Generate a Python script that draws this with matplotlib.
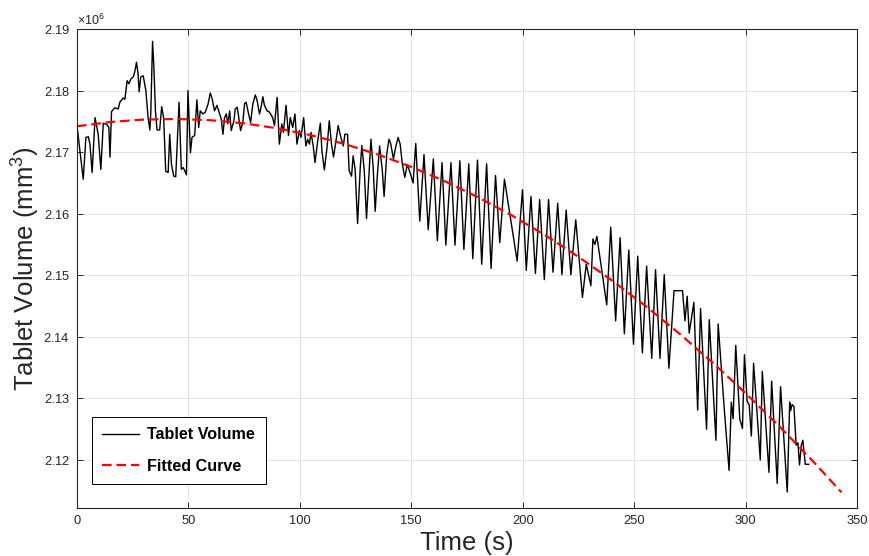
import numpy as np
import matplotlib.pyplot as plt

plt.rcParams['font.family'] = ['Liberation Sans', 'DejaVu Sans']
plt.rcParams['mathtext.fontset'] = 'custom'
plt.rcParams['mathtext.rm'] = 'Liberation Sans'
plt.rcParams['mathtext.it'] = 'Liberation Sans:italic'

# measured tablet volume (time in s, volume in 10^3 mm^3)
time_s = [
    0.1, 2.8, 4.0, 5.1, 5.8, 6.8, 8.1, 9.5, 10.7, 11.8,
    13.3, 14.3, 14.8, 15.5, 17.0, 18.5, 19.2, 20.7, 21.5, 22.5,
    23.3, 24.2, 25.2, 25.9, 26.7, 27.4, 27.9, 28.6, 29.7, 30.9,
    31.9, 32.7, 33.1, 33.9, 34.5, 35.2, 35.9, 37.1, 38.0, 38.9,
    39.8, 40.9, 41.6, 42.4, 43.4, 44.3,
    45.8, 46.8, 47.6, 48.3, 49.1, 49.8, 50.9, 51.6, 52.8, 53.8,
    54.6, 55.3, 56.5, 57.6, 58.8, 59.8, 60.7, 61.7, 62.8, 64.0,
    64.7, 65.5, 66.2, 67.0, 67.7, 68.5, 69.2, 70.4, 71.0, 71.9,
    72.6, 73.4, 74.4, 75.2, 75.9, 77.0, 77.9, 78.9, 80.0, 80.8,
    81.9, 82.6, 83.4, 84.1, 85.3, 86.4, 87.8,
    88.6, 89.8, 90.8, 91.9, 92.6, 93.8, 94.9, 95.7, 96.8, 97.8,
    98.7, 99.8, 100.5, 101.7, 102.7, 103.5, 104.3, 105.0, 106.0, 106.8,
    108.0, 109.2, 109.9, 111.0, 112.2, 113.2, 114.2, 115.1, 116.2, 117.2,
    118.4, 119.5, 120.2, 121.4, 122.1, 123.2, 123.9, 124.8, 125.9, 127.1,
    127.8, 128.9, 129.9, 131.1, 131.9, 132.9, 133.8, 134.8, 135.8, 137.0,
    137.8,
    139.0, 140.0, 140.8, 142.0, 143.0, 144.1, 145.0, 146.0, 147.1, 148.2,
    149.7, 150.8, 152.0, 153.8, 155.7, 157.6, 159.9, 161.7, 163.8, 165.5,
    167.8, 169.6, 171.8, 173.6, 175.8, 177.6, 179.7, 181.6, 183.8, 185.8,
    187.8, 189.7, 191.8, 197.5, 199.9, 201.6, 203.7, 205.7, 207.6, 209.7,
    211.6, 213.6, 215.7, 217.6, 219.5, 221.6, 223.8, 226.8, 228.5, 230.6,
    231.5, 232.4, 233.3, 237.7, 239.5, 241.7, 243.7, 245.6, 247.6, 249.7,
    251.6, 253.7, 255.6, 257.9, 259.6, 261.6, 263.5, 265.6, 267.9, 271.7,
    272.8, 273.8, 274.7, 276.8, 278.5, 279.8, 282.5, 283.7, 286.7, 287.7,
    290.5, 292.6, 293.6, 294.4, 295.6, 297.4, 298.6, 299.5, 300.7, 301.6,
    302.6, 303.6, 306.6, 307.5, 310.5, 311.7, 314.2, 315.7, 318.7, 319.8,
    320.2, 320.9, 321.7, 322.7, 323.5, 324.2, 325.0, 325.7, 326.8, 328.3,
]
volume_k = [
    2174.0, 2165.6, 2172.4, 2172.5, 2171.3, 2166.7, 2175.6, 2172.9, 2167.2, 2174.7,
    2174.5, 2174.0, 2169.2, 2176.6, 2177.2, 2177.0, 2178.1, 2178.8, 2178.6, 2181.6,
    2181.1, 2181.9, 2182.2, 2183.0, 2184.6, 2182.7, 2179.8, 2182.2, 2182.4, 2180.0,
    2175.6, 2173.6, 2176.2, 2188.0, 2183.8, 2176.7, 2173.6, 2173.6, 2177.4, 2175.5,
    2166.9, 2166.7, 2172.9, 2168.0, 2166.1, 2166.0,
    2178.1, 2167.2, 2167.5, 2167.0, 2166.3, 2180.0, 2169.9, 2172.4, 2172.7, 2178.5,
    2174.0, 2176.7, 2176.2, 2176.5, 2177.8, 2179.6, 2178.6, 2176.7, 2177.6, 2176.2,
    2175.4, 2172.9, 2175.6, 2176.2, 2174.6, 2176.7, 2173.5, 2175.1, 2177.0, 2177.3,
    2175.6, 2173.5, 2174.8, 2177.9, 2178.1, 2176.2, 2174.8, 2177.8, 2179.3, 2178.4,
    2176.2, 2177.3, 2179.0, 2177.6, 2176.7, 2176.5, 2175.6,
    2174.3, 2178.9, 2171.3, 2174.6, 2173.2, 2177.6, 2172.7, 2175.6, 2174.0, 2176.2,
    2171.3, 2173.5, 2172.4, 2175.6, 2171.0, 2172.1, 2171.3, 2173.2, 2171.0, 2168.3,
    2171.8, 2174.7, 2170.2, 2167.1, 2170.8, 2175.1, 2171.3, 2169.2, 2171.8, 2174.3,
    2172.4, 2171.0, 2172.9, 2172.9, 2167.0, 2166.1, 2169.4, 2167.2, 2158.4, 2167.5,
    2171.1, 2167.0, 2159.2, 2167.0, 2172.1, 2167.5, 2160.4, 2166.4, 2171.0, 2167.0,
    2162.8,
    2169.7, 2172.1, 2171.3, 2168.9, 2170.8, 2172.4, 2171.3, 2168.0, 2165.9, 2168.0,
    2166.4, 2165.0, 2171.4, 2158.8, 2169.6, 2157.4, 2168.9, 2155.6, 2168.3, 2154.9,
    2168.3, 2154.9, 2168.6, 2154.2, 2168.1, 2152.7, 2168.7, 2151.8, 2168.1, 2151.1,
    2166.2, 2155.3, 2165.6, 2152.3, 2163.9, 2150.8, 2162.8, 2150.3, 2162.3, 2149.3,
    2162.3, 2150.5, 2161.7, 2150.1, 2160.6, 2150.1, 2159.0, 2146.4, 2151.8, 2148.3,
    2155.9, 2155.0, 2156.3, 2145.2, 2157.8, 2142.6, 2156.1, 2140.5, 2154.1, 2138.8,
    2153.1, 2137.4, 2151.5, 2136.5, 2150.9, 2136.5, 2150.1, 2134.9, 2147.5, 2147.5,
    2142.6, 2146.6, 2140.6, 2145.6, 2128.1, 2144.6, 2125.0, 2142.8, 2123.2, 2142.1,
    2128.0, 2118.3, 2129.4, 2126.7, 2138.6, 2126.7, 2125.1, 2137.1, 2129.5, 2129.0,
    2123.9, 2135.7, 2120.0, 2134.4, 2118.0, 2132.8, 2116.2, 2131.9, 2114.8, 2129.4,
    2128.0, 2129.0, 2128.7, 2122.4, 2122.8, 2119.2, 2122.4, 2123.2, 2119.3, 2119.3,
]

# fitted curve
fit_time_s = [0, 15, 30, 45, 60, 75, 90, 105, 120, 135, 150, 165, 180,
              195, 210, 225, 240, 255, 270, 285, 300, 315, 330, 343]
fit_volume_k = [2174.20, 2174.90, 2175.29, 2175.39, 2175.18, 2174.67, 2173.86,
                2172.75, 2171.33, 2169.62, 2167.60, 2165.28, 2162.66, 2159.74,
                2156.52, 2152.99, 2149.17, 2145.04, 2140.61, 2135.88, 2130.85,
                2125.52, 2119.88, 2114.75]

volume = np.array(volume_k) * 1e3
fit_volume = np.array(fit_volume_k) * 1e3

dark = '#262626'
fig = plt.figure(figsize=(8.69, 5.56), dpi=100)
ax = fig.add_axes([77 / 869, 1 - 508 / 556, 780 / 869, 479 / 556])

ax.plot(time_s, volume, color='black', lw=1.0, label='Tablet Volume')
ax.plot(fit_time_s, fit_volume, color='#ff0000', lw=1.6, dashes=(4.3, 2.2),
        label='Fitted Curve')

ax.set_xlim(0, 350)
ax.set_ylim(2.1122e6, 2.19e6)
ax.set_xticks(np.arange(0, 351, 50))
ax.set_yticks(np.arange(2.12e6, 2.1901e6, 0.01e6))
ax.ticklabel_format(axis='y', style='sci', scilimits=(6, 6), useOffset=False,
                    useMathText=True)
ax.yaxis.get_offset_text().set_fontsize(9)
ax.yaxis.get_offset_text().set_color(dark)

ax.grid(True, color='#e3e3e3', lw=0.7)
ax.set_axisbelow(True)
ax.tick_params(direction='in', top=True, right=True, length=4, width=0.7,
               colors=dark, labelsize=9.3, pad=5)
for sp in ax.spines.values():
    sp.set_color(dark)
    sp.set_linewidth(0.8)

ax.set_xlabel('Time (s)', fontsize=18.5, color=dark, labelpad=3)
ax.set_ylabel(r'Tablet Volume (mm$^{3}$)', fontsize=18.5, color=dark, labelpad=1)

leg = ax.legend(loc='lower left', bbox_to_anchor=(0.019, 0.05), borderaxespad=0,
                fancybox=False, edgecolor='black', framealpha=1,
                prop={'weight': 'bold', 'size': 11.6}, handlelength=2.3,
                handletextpad=0.5, labelspacing=1.0, borderpad=0.65)
leg.get_frame().set_linewidth(0.7)

fig.savefig('out.png', dpi=100)
